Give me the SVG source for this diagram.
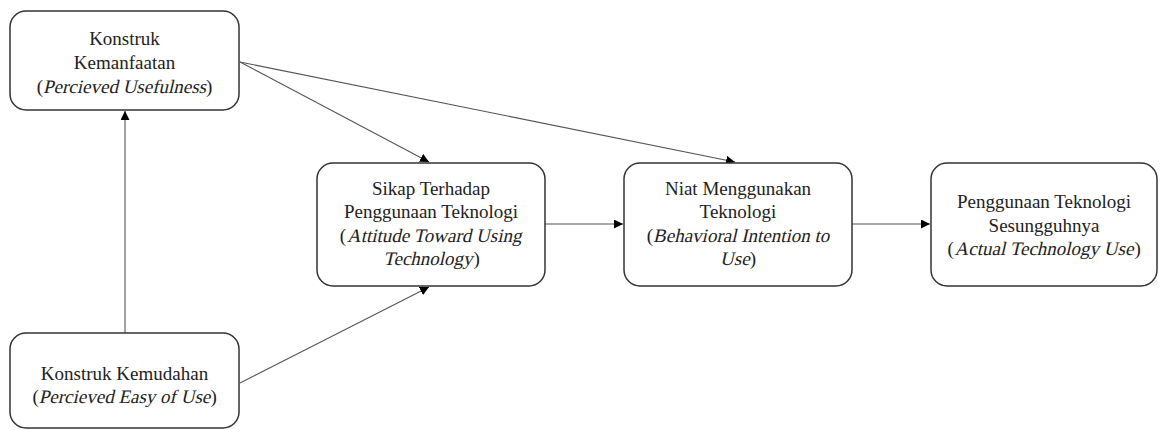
<svg xmlns="http://www.w3.org/2000/svg" width="1160" height="430" viewBox="0 0 1160 430">
<style>
.box{fill:#fff;stroke:#333;stroke-width:1.5}
.t{font-size:19px;fill:#222;text-anchor:middle}
.s{font-size:19px;fill:#222;text-anchor:start}
.e{font-size:19px;fill:#222;text-anchor:end}
.c{stroke:#555;stroke-width:1.1;fill:none;marker-end:url(#ah)}
</style>
<defs>
<marker id="ah" viewBox="0 0 10 10" refX="10" refY="5" markerWidth="9" markerHeight="9" markerUnits="userSpaceOnUse" orient="auto">
<path d="M0,0 L10,5 L0,10 Z" fill="#000"/>
</marker>
</defs>
<rect width="1160" height="430" fill="#fff"/>
<g id="connectors">
<line class="c" x1="125" y1="333" x2="125" y2="111"/>
<line class="c" x1="240" y1="62" x2="429" y2="162"/>
<line class="c" x1="240" y1="62" x2="735" y2="162"/>
<line class="c" x1="240" y1="383" x2="429" y2="287"/>
<line class="c" x1="545" y1="224" x2="623" y2="224"/>
<line class="c" x1="852" y1="224" x2="930" y2="224"/>
</g>
<g id="n1">
<rect class="box" x="10" y="11" width="229" height="99" rx="16"/>
<text class="t" font-family="Liberation Serif" x="124.5" y="45">Konstruk</text>
<text class="t" font-family="Liberation Serif" x="124.5" y="69">Kemanfaatan</text>
<text class="e" font-family="Liberation Serif" x="43" y="93">(</text>
<text class="t" font-family="Liberation Serif" transform="translate(124.5,93) skewX(-13)" x="0" y="0">Percieved Usefulness</text>
<text class="s" font-family="Liberation Serif" x="206" y="93">)</text>
</g>
<g id="n2">
<rect class="box" x="317" y="163" width="228" height="123" rx="16"/>
<text class="t" font-family="Liberation Serif" x="431" y="195">Sikap Terhadap</text>
<text class="t" font-family="Liberation Serif" x="431" y="218">Penggunaan Teknologi</text>
<text class="e" font-family="Liberation Serif" x="346" y="242">(</text>
<text class="t" font-family="Liberation Serif" transform="translate(434.2,242) skewX(-13)" x="0" y="0">Attitude Toward Using</text>
<text class="t" font-family="Liberation Serif" transform="translate(427.9,265) skewX(-13)" x="0" y="0">Technology</text>
<text class="s" font-family="Liberation Serif" x="473.5" y="265">)</text>
</g>
<g id="n3">
<rect class="box" x="624" y="163" width="228" height="123" rx="16"/>
<text class="t" font-family="Liberation Serif" x="738" y="195">Niat Menggunakan</text>
<text class="t" font-family="Liberation Serif" x="738" y="218">Teknologi</text>
<text class="e" font-family="Liberation Serif" x="653" y="242">(</text>
<text class="t" font-family="Liberation Serif" transform="translate(741.2,242) skewX(-13)" x="0" y="0">Behavioral Intention to</text>
<text class="t" font-family="Liberation Serif" transform="translate(734.8,265) skewX(-13)" x="0" y="0">Use</text>
<text class="s" font-family="Liberation Serif" x="749.8" y="265">)</text>
</g>
<g id="n4">
<rect class="box" x="931" y="163" width="226" height="123" rx="16"/>
<text class="t" font-family="Liberation Serif" x="1044" y="208">Penggunaan Teknologi</text>
<text class="t" font-family="Liberation Serif" x="1044" y="232">Sesungguhnya</text>
<text class="e" font-family="Liberation Serif" x="953.8" y="255">(</text>
<text class="t" font-family="Liberation Serif" transform="translate(1044,255) skewX(-13)" x="0" y="0">Actual Technology Use</text>
<text class="s" font-family="Liberation Serif" x="1134.5" y="255">)</text>
</g>
<g id="n5">
<rect class="box" x="10" y="333" width="229" height="95" rx="16"/>
<text class="t" font-family="Liberation Serif" x="124.5" y="380">Konstruk Kemudahan</text>
<text class="e" font-family="Liberation Serif" x="38.8" y="403">(</text>
<text class="t" font-family="Liberation Serif" transform="translate(124.5,403) skewX(-13)" x="0" y="0">Percieved Easy of Use</text>
<text class="s" font-family="Liberation Serif" x="210.5" y="403">)</text>
</g>
</svg>
